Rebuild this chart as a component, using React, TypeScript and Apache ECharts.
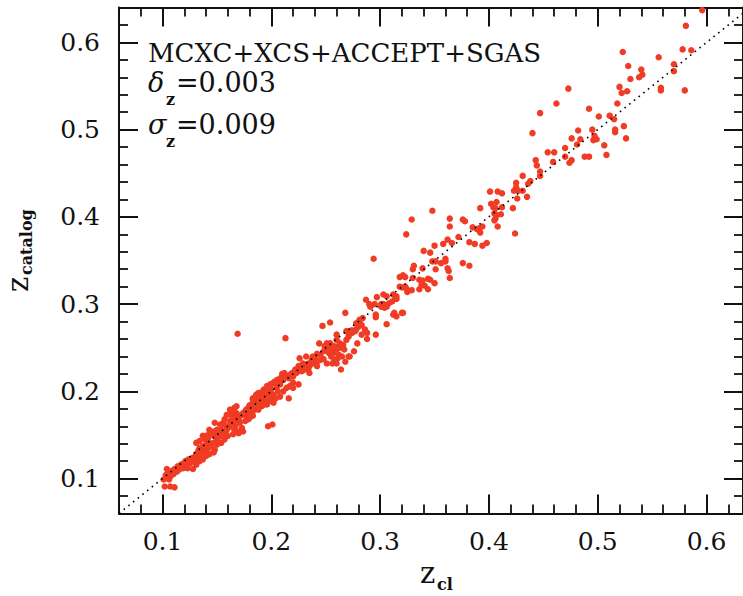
import React, { useEffect, useRef } from 'react';
import * as echarts from 'echarts';

// cluster redshift pairs [z_cl, z_catalog]
const highZ: [number, number][] = [
  [0.596,0.637],[0.581,0.619],[0.523,0.589],[0.528,0.573],[0.540,0.569],[0.541,0.563],[0.538,0.560],
  [0.530,0.558],[0.556,0.583],[0.578,0.592],[0.586,0.591],[0.570,0.575],[0.570,0.567],[0.558,0.548],
  [0.558,0.545],[0.580,0.545],[0.520,0.549],[0.522,0.542],[0.527,0.544],[0.518,0.530],[0.492,0.524],
  [0.501,0.515],[0.511,0.516],[0.515,0.512],[0.524,0.504],[0.495,0.500],[0.516,0.500],
  [0.462,0.530],[0.473,0.547],[0.447,0.519],[0.440,0.496],[0.482,0.499],[0.516,0.497],[0.526,0.490],
  [0.476,0.490],[0.484,0.489],[0.470,0.479],[0.481,0.483],[0.496,0.488],[0.499,0.489],[0.497,0.493],
  [0.506,0.482],[0.508,0.471],[0.488,0.469],[0.492,0.469],[0.454,0.474],[0.460,0.474],[0.470,0.469],
  [0.474,0.462],[0.476,0.465],[0.459,0.463],[0.443,0.465],[0.444,0.459],[0.447,0.452],[0.447,0.447],
  [0.431,0.447],[0.438,0.441],[0.436,0.438],[0.425,0.439],[0.425,0.434],[0.423,0.430],[0.427,0.430],
  [0.431,0.430],[0.401,0.429],[0.408,0.429],[0.412,0.427],[0.435,0.423],[0.426,0.421],
];

const midZ: [number, number][] = [
  [0.402,0.415],[0.407,0.417],[0.404,0.411],[0.412,0.411],[0.406,0.410],[0.422,0.410],[0.392,0.410],
  [0.348,0.407],[0.329,0.397],[0.324,0.380],[0.364,0.398],[0.364,0.389],[0.376,0.397],[0.378,0.395],
  [0.405,0.404],[0.407,0.402],[0.406,0.398],[0.405,0.396],[0.408,0.389],[0.411,0.403],[0.424,0.381],
  [0.394,0.389],[0.391,0.387],[0.389,0.386],[0.385,0.388],[0.392,0.382],[0.372,0.377],[0.366,0.370],
  [0.362,0.374],[0.358,0.369],[0.350,0.367],[0.340,0.361],[0.346,0.359],[0.382,0.371],[0.387,0.369],
  [0.394,0.367],[0.398,0.370],[0.348,0.349],[0.351,0.349],[0.360,0.352],[0.360,0.349],[0.356,0.347],
  [0.351,0.340],[0.339,0.341],[0.362,0.341],[0.363,0.338],[0.364,0.330],[0.376,0.347],[0.382,0.344],
  [0.330,0.340],[0.331,0.344],[0.330,0.330],[0.336,0.328],[0.339,0.327],[0.336,0.317],[0.341,0.321],
  [0.344,0.329],[0.346,0.328],[0.344,0.317],[0.350,0.324],[0.318,0.331],[0.321,0.333],[0.323,0.331],
  [0.318,0.320],[0.320,0.319],[0.323,0.320],[0.324,0.318],[0.325,0.314],[0.329,0.316],[0.306,0.309],
  [0.312,0.311],[0.315,0.309],[0.303,0.300],[0.308,0.301],[0.311,0.303],[0.315,0.306],[0.306,0.297],
  [0.313,0.290],[0.312,0.288],[0.320,0.290],[0.321,0.290],[0.306,0.277],[0.301,0.300],[0.304,0.296],
  [0.294,0.352],[0.338,0.322],[0.314,0.307],[0.303,0.311],[0.297,0.308],[0.290,0.300],[0.291,0.297],
  [0.287,0.305],[0.295,0.300],[0.301,0.297],[0.315,0.286],[0.296,0.288],[0.296,0.285],
];

const lowMidZ: [number, number][] = [
  [0.268,0.290],[0.284,0.284],[0.281,0.282],[0.169,0.266],[0.213,0.261],[0.247,0.275],[0.254,0.279],
  [0.244,0.255],[0.278,0.278],[0.278,0.271],[0.274,0.270],[0.269,0.269],[0.283,0.265],[0.286,0.271],
  [0.288,0.260],[0.279,0.255],[0.276,0.246],[0.272,0.240],[0.268,0.234],[0.264,0.225],[0.267,0.248],
  [0.263,0.255],[0.260,0.265],[0.259,0.251],[0.254,0.255],[0.255,0.248],[0.253,0.244],[0.257,0.244],
  [0.255,0.240],[0.261,0.238],[0.262,0.242],[0.260,0.232],[0.256,0.232],[0.251,0.232],[0.248,0.237],
  [0.245,0.236],[0.242,0.243],[0.240,0.238],[0.238,0.232],[0.235,0.229],[0.232,0.240],[0.226,0.238],
  [0.229,0.232],[0.228,0.227],[0.231,0.225],[0.235,0.221],[0.225,0.229],[0.222,0.225],[0.219,0.221],
  [0.216,0.215],[0.212,0.221],[0.210,0.220],[0.225,0.208],[0.220,0.210],[0.217,0.206],[0.214,0.204],
  [0.208,0.208],[0.205,0.205],[0.203,0.211],[0.200,0.203],[0.196,0.202],[0.199,0.198],[0.193,0.196],
  [0.189,0.193],[0.188,0.198],[0.186,0.191],[0.191,0.187],[0.194,0.185],[0.183,0.187],[0.180,0.183],
  [0.216,0.192],[0.208,0.194],[0.206,0.200],[0.296,0.265],[0.281,0.280],[0.260,0.259],[0.254,0.250],
  [0.257,0.248],[0.258,0.236],[0.288,0.267],[0.271,0.240],[0.265,0.240],
  [0.183,0.192],[0.186,0.196],[0.193,0.202],[0.196,0.206],[0.199,0.208],[0.202,0.210],[0.205,0.213],
  [0.208,0.215],[0.211,0.213],[0.214,0.217],[0.217,0.219],[0.220,0.217],[0.223,0.221],[0.225,0.223],
  [0.228,0.223],[0.231,0.231],[0.234,0.232],[0.237,0.236],[0.238,0.240],[0.242,0.234],[0.245,0.242],
  [0.248,0.246],[0.251,0.248],[0.254,0.250],[0.257,0.252],[0.260,0.248],[0.263,0.250],[0.266,0.253],
  [0.269,0.259],[0.271,0.263],[0.274,0.267],[0.277,0.269],[0.280,0.274],[0.283,0.276],[0.251,0.255],
  [0.249,0.252],[0.242,0.229],[0.234,0.225],[0.220,0.204],[0.211,0.200],[0.200,0.194],[0.196,0.191],
  [0.189,0.187],[0.185,0.183],
];

const lowZ: [number, number][] = [
  [0.101,0.099],[0.103,0.104],[0.105,0.107],[0.107,0.102],[0.110,0.105],[0.113,0.108],[0.116,0.111],
  [0.119,0.112],[0.122,0.115],[0.125,0.117],[0.128,0.111],[0.117,0.116],[0.114,0.114],[0.111,0.111],
  [0.109,0.109],[0.121,0.120],[0.124,0.122],[0.127,0.120],[0.130,0.124],[0.131,0.128],[0.133,0.132],
  [0.134,0.135],[0.137,0.137],[0.140,0.139],[0.143,0.141],[0.139,0.145],[0.142,0.147],[0.131,0.141],
  [0.134,0.143],[0.137,0.149],[0.145,0.151],[0.148,0.149],[0.151,0.152],[0.154,0.156],[0.153,0.162],
  [0.156,0.164],[0.159,0.160],[0.162,0.166],[0.165,0.170],[0.163,0.173],[0.162,0.179],[0.166,0.181],
  [0.168,0.175],[0.170,0.168],[0.171,0.164],[0.173,0.158],[0.174,0.154],[0.170,0.152],[0.166,0.156],
  [0.165,0.151],[0.160,0.149],[0.157,0.145],[0.154,0.141],[0.150,0.139],[0.148,0.133],[0.147,0.130],
  [0.143,0.128],[0.140,0.126],[0.137,0.122],[0.134,0.120],[0.131,0.116],[0.128,0.120],[0.173,0.173],
  [0.176,0.177],[0.177,0.172],[0.180,0.175],[0.179,0.181],[0.182,0.183],[0.183,0.187],[0.186,0.187],
  [0.189,0.194],[0.193,0.192],[0.196,0.196],[0.199,0.200],[0.202,0.196],[0.204,0.192],[0.200,0.189],
  [0.196,0.185],[0.191,0.183],[0.186,0.181],[0.183,0.177],[0.180,0.170],[0.102,0.091],[0.107,0.091],
  [0.111,0.090],[0.148,0.164],[0.143,0.156],[0.197,0.160],[0.201,0.162],
  [0.104,0.111],[0.106,0.099],[0.114,0.109],[0.117,0.114],[0.119,0.117],[0.123,0.112],[0.125,0.120],
  [0.128,0.124],[0.130,0.120],[0.132,0.122],[0.134,0.126],[0.136,0.130],[0.137,0.132],[0.140,0.133],
  [0.142,0.135],[0.145,0.137],[0.147,0.141],[0.150,0.145],[0.151,0.147],[0.153,0.149],[0.156,0.151],
  [0.158,0.153],[0.159,0.156],[0.161,0.159],[0.163,0.162],[0.165,0.164],[0.167,0.167],[0.169,0.170],
  [0.171,0.172],[0.174,0.175],[0.177,0.179],[0.180,0.184],[0.183,0.191],[0.186,0.194],[0.188,0.196],
  [0.191,0.199],[0.194,0.201],[0.168,0.183],[0.165,0.177],[0.159,0.173],[0.157,0.168],[0.155,0.162],
  [0.150,0.156],[0.147,0.154],[0.143,0.151],[0.140,0.149],[0.167,0.160],[0.169,0.154],[0.176,0.166],
  [0.179,0.168],[0.183,0.172],[0.188,0.179],[0.193,0.187],[0.197,0.191],[0.202,0.187],
];

const majorTicks = [0.1, 0.2, 0.3, 0.4, 0.5, 0.6];
const xMin = 0.06, xMax = 0.6335;
const yMin = 0.06, yMax = 0.64;
const title = 'MCXC+XCS+ACCEPT+SGAS';
const deltaZ = '=0.003';
const sigmaZ = '=0.009';

const SERIF = 'DejaVu Serif';
const INK = '#111';

export default function App() {
  const ref = useRef<HTMLDivElement>(null);
  useEffect(() => {
    if (!ref.current) return;
    const chart = echarts.init(ref.current, undefined, { renderer: 'svg' });
    const grid = { left: 119, right: 0, top: 7.5, bottom: 82.5 };
    const labelFmt = (v: number) => {
      const r = Math.round(v * 10) / 10;
      return Math.abs(v - r) < 1e-6 ? r.toFixed(1) : '';
    };
    const minorAxis = (pos: string, isX: boolean, showLabel: boolean) => ({
      type: 'value',
      gridIndex: 0,
      position: pos,
      min: isX ? xMin : yMin,
      max: isX ? xMax : yMax,
      interval: 0.02,
      axisLine: { show: true, lineStyle: { color: INK, width: 2 } },
      axisTick: { show: true, inside: true, length: 9, lineStyle: { color: INK, width: 1.8 } },
      axisLabel: {
        show: showLabel,
        customValues: majorTicks,
        formatter: labelFmt,
        fontFamily: SERIF,
        fontSize: 25,
        color: INK,
        margin: isX ? 15 : 19,
      },
      splitLine: { show: false },
    });
    const majorAxis = (pos: string, isX: boolean) => ({
      type: 'value',
      gridIndex: 1,
      position: pos,
      min: isX ? xMin : yMin,
      max: isX ? xMax : yMax,
      axisLine: { show: false },
      axisTick: { show: true, inside: true, length: 19, customValues: majorTicks, lineStyle: { color: INK, width: 2 } },
      axisLabel: { show: false },
      splitLine: { show: false },
    });
    const allPoints = [...lowZ, ...lowMidZ, ...midZ, ...highZ];
    const txt = (x: number, y: number, text: string, size: number, extra: any = {}) => ({
      type: 'text',
      x,
      y,
      style: { text, fontFamily: SERIF, fontSize: size, fill: INK, verticalAlign: 'middle', textVerticalAlign: 'middle', ...extra },
    });
    chart.setOption({
      animation: false,
      grid: [grid, grid],
      xAxis: [minorAxis('bottom', true, true), minorAxis('top', true, false), majorAxis('bottom', true), majorAxis('top', true)],
      yAxis: [minorAxis('left', false, true), minorAxis('right', false, false), majorAxis('left', false), majorAxis('right', false)],
      series: [
        {
          type: 'scatter',
          xAxisIndex: 0,
          yAxisIndex: 0,
          data: allPoints,
          symbolSize: 6.5,
          itemStyle: { color: '#f03c24', opacity: 1 },
          z: 2,
        },
        {
          type: 'line',
          xAxisIndex: 0,
          yAxisIndex: 0,
          data: [[xMin, xMin], [xMax, xMax]],
          symbol: 'none',
          lineStyle: { color: '#000', width: 1.6, type: [1.6, 4.4] },
          z: 3,
        },
      ],
      graphic: [
        txt(148, 52.5, title, 26),
        txt(148, 82, 'δ', 27, { fontStyle: 'italic' }),
        txt(166, 99, 'z', 16, { fontWeight: 'bold' }),
        txt(176, 82, deltaZ, 27),
        txt(148, 124, 'σ', 27, { fontStyle: 'italic' }),
        txt(166, 141, 'z', 16, { fontWeight: 'bold' }),
        txt(176, 124, sigmaZ, 27),
        // x-axis title
        txt(420, 573, 'z', 29),
        txt(437, 584, 'cl', 16, { fontWeight: 'bold' }),
        // y-axis title (rotated)
        {
          type: 'group',
          x: 18,
          y: 292,
          rotation: Math.PI / 2,
          children: [
            txt(0, 0, 'z', 29),
            txt(17, 8.5, 'catalog', 16, { fontWeight: 'bold' }),
          ],
        },
      ],
    });
    return () => chart.dispose();
  }, []);
  return <div ref={ref} style={{ position: 'fixed', left: 0, top: 0, width: 743, height: 596, background: '#fff' }} />;
}
